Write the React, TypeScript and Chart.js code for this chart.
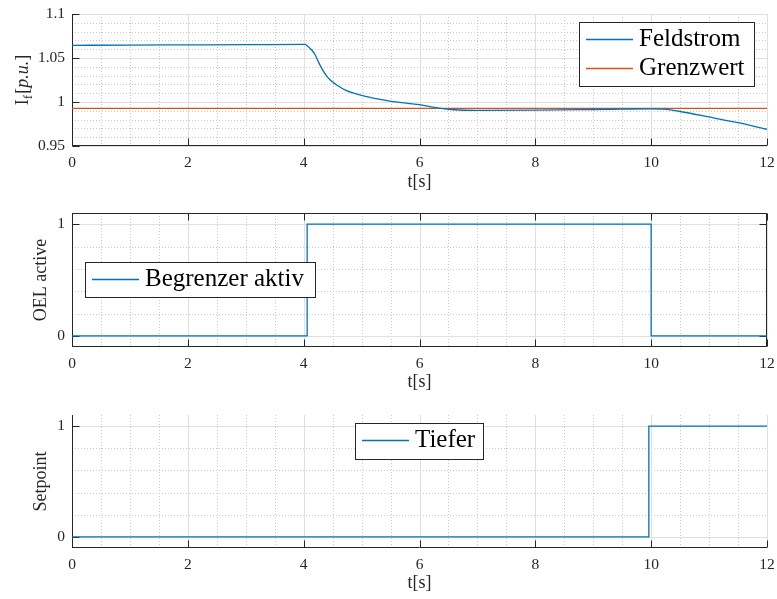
import React, { useEffect, useRef } from "react";
import { Chart, registerables } from "chart.js";

Chart.register(...registerables);

// ---- data ----
const xTicks = [0, 2, 4, 6, 8, 10, 12];

const feldTimes = [0, 1, 2, 3, 4, 4.02, 4.08, 4.14, 4.2, 4.25, 4.31, 4.37, 4.45, 4.57, 4.74, 4.97, 5.2, 5.49, 5.8, 6.0, 6.2, 6.4, 6.6, 7.0, 8.0, 9.0, 9.5, 10.0, 10.2, 10.5, 11.0, 11.5, 12.0];
const feldstrom = [1.0644, 1.0647, 1.0649, 1.0651, 1.0655, 1.0655, 1.0629, 1.0591, 1.0534, 1.0462, 1.0385, 1.032, 1.0255, 1.0193, 1.0129, 1.008, 1.0045, 1.0011, 0.9985, 0.997, 0.9945, 0.9925, 0.9912, 0.9905, 0.9908, 0.9915, 0.9919, 0.9923, 0.9918, 0.9892, 0.983, 0.9765, 0.969];
const grenzTimes = [0, 12];
const grenzwert = [0.9928, 0.9928];
const yTicksFeld = [0.95, 1, 1.05, 1.1];

const oelTimes = [0, 4.06, 10.0, 12];
const oelActive = [0, 1, 0, 0];

const setTimes = [0, 9.96, 12];
const setpoint = [0, 1, 1];

const yTicksBin = [0, 1];

// ---- styling ----
const BLUE = "#0072BD";
const ORANGE = "#D95319";
const AXIS = "#262626";
const FONT = "'Liberation Serif', 'Times New Roman', serif";
const TICK_SIZE = 15.5;
const TITLE_SIZE = 18;

const xMinor: number[] = [];
for (let v = 0.5; v < 12; v += 0.5) if (v % 2 !== 0) xMinor.push(v);
const yMinorFeld: number[] = [];
for (let i = 1; i < 15; i++) if (i % 5 !== 0) yMinorFeld.push(0.95 + i * 0.01);
const yMinorBin = [0.2, 0.4, 0.6, 0.8];

const toXY = (xs: number[], ys: number[]) => xs.map((x, i) => ({ x, y: ys[i] }));

const axesPlugin = {
  id: "matlabAxes",
  beforeDatasetsDraw(chart: any, _args: any, opts: any) {
    const { ctx, chartArea: a, scales } = chart;
    const x = scales.x;
    const y = scales.y;
    const px = (v: number) => Math.round(x.getPixelForValue(v)) + 0.5;
    const py = (v: number) => Math.round(y.getPixelForValue(v)) + 0.5;
    ctx.save();
    ctx.lineWidth = 1;
    // minor dotted grid
    ctx.strokeStyle = "#c9c9c9";
    ctx.setLineDash([1, 2]);
    ctx.beginPath();
    for (const v of xMinor) {
      ctx.moveTo(px(v), a.top);
      ctx.lineTo(px(v), a.bottom);
    }
    for (const v of opts.yMinor) {
      ctx.moveTo(a.left, py(v));
      ctx.lineTo(a.right, py(v));
    }
    ctx.stroke();
    ctx.setLineDash([]);
    // major grid
    ctx.strokeStyle = "#e0e0e0";
    ctx.beginPath();
    for (const v of xTicks) {
      ctx.moveTo(px(v), a.top);
      ctx.lineTo(px(v), a.bottom);
    }
    for (const v of opts.yTicks) {
      ctx.moveTo(a.left, py(v));
      ctx.lineTo(a.right, py(v));
    }
    ctx.stroke();
    // axes and inward ticks
    ctx.strokeStyle = AXIS;
    const L = Math.round(a.left) + 0.5;
    const B = Math.round(a.bottom) - 0.5;
    const T = Math.round(a.top) + 0.5;
    const R = Math.round(a.right) - 0.5;
    const tl = 7;
    ctx.beginPath();
    ctx.moveTo(L, a.top);
    ctx.lineTo(L, B + 0.5);
    ctx.moveTo(L - 0.5, B);
    ctx.lineTo(a.right, B);
    for (const v of xTicks) {
      ctx.moveTo(px(v), B);
      ctx.lineTo(px(v), B - tl);
    }
    for (const v of opts.yTicks) {
      ctx.moveTo(L, py(v));
      ctx.lineTo(L + tl, py(v));
    }
    if (opts.box) {
      ctx.moveTo(a.left, T);
      ctx.lineTo(a.right, T);
      ctx.moveTo(R, a.top);
      ctx.lineTo(R, a.bottom);
      for (const v of xTicks) {
        ctx.moveTo(px(v), T);
        ctx.lineTo(px(v), T + tl);
      }
      for (const v of opts.yTicks) {
        ctx.moveTo(R, py(v));
        ctx.lineTo(R - tl, py(v));
      }
    }
    ctx.stroke();
    ctx.restore();
  },
  afterDatasetsDraw(chart: any, _args: any, opts: any) {
    const { ctx } = chart;
    ctx.save();
    const lg = opts.legend;
    if (lg) {
      ctx.fillStyle = "#ffffff";
      ctx.fillRect(lg.left, lg.top, lg.width, lg.height);
      ctx.strokeStyle = AXIS;
      ctx.lineWidth = 1;
      ctx.strokeRect(lg.left + 0.5, lg.top + 0.5, lg.width, lg.height);
      chart.data.datasets.forEach((ds: any, i: number) => {
        const cy = lg.top + 17 + i * 29 + 0.5;
        ctx.strokeStyle = ds.borderColor;
        ctx.lineWidth = 1.3;
        ctx.beginPath();
        ctx.moveTo(lg.left + 7, cy);
        ctx.lineTo(lg.left + 54, cy);
        ctx.stroke();
        ctx.fillStyle = "#000000";
        ctx.font = `25px ${FONT}`;
        ctx.textBaseline = "alphabetic";
        ctx.textAlign = "left";
        ctx.fillText(ds.label, lg.left + 60, cy + 6);
      });
    }
    if (opts.richTitle) {
      // I_f [p.u.] rotated
      const { cx, cy } = opts.richTitle;
      const parts = [
        { t: "I", f: `${TITLE_SIZE}px ${FONT}`, dy: 0 },
        { t: "f", f: `13px ${FONT}`, dy: 4 },
        { t: "[", f: `${TITLE_SIZE}px ${FONT}`, dy: 0 },
        { t: "p.u.", f: `italic ${TITLE_SIZE}px ${FONT}`, dy: 0 },
        { t: "]", f: `${TITLE_SIZE}px ${FONT}`, dy: 0 },
      ];
      let w = 0;
      for (const p of parts) {
        ctx.font = p.f;
        w += ctx.measureText(p.t).width + (p.t === "f" ? 1 : 0);
      }
      ctx.translate(cx, cy);
      ctx.rotate(-Math.PI / 2);
      ctx.fillStyle = AXIS;
      ctx.textBaseline = "alphabetic";
      ctx.textAlign = "left";
      let xx = -w / 2;
      for (const p of parts) {
        ctx.font = p.f;
        ctx.fillText(p.t, xx, 6 + p.dy);
        xx += ctx.measureText(p.t).width + (p.t === "f" ? 1 : 0);
      }
    }
    ctx.restore();
  },
};

type PanelProps = {
  top: number;
  height: number;
  padTop: number;
  plotHeight: number;
  xTitlePad: number;
  datasets: any[];
  yMin: number;
  yMax: number;
  yTicks: number[];
  yMinor: number[];
  yTitle?: string;
  richTitle?: { cx: number; cy: number };
  box: boolean;
  legend: { left: number; top: number; width: number; height: number };
};

function Panel(p: PanelProps) {
  const ref = useRef<HTMLCanvasElement | null>(null);
  useEffect(() => {
    if (!ref.current) return;
    const chart = new Chart(ref.current, {
      type: "line",
      data: { datasets: p.datasets },
      plugins: [axesPlugin],
      options: {
        animation: false,
        responsive: false,
        devicePixelRatio: 1,
        layout: { padding: { top: p.padTop, right: 10, left: 0, bottom: 0 } },
        elements: { point: { radius: 0 } },
        plugins: {
          legend: { display: false },
          tooltip: { enabled: false },
          matlabAxes: {
            yTicks: p.yTicks,
            yMinor: p.yMinor,
            box: p.box,
            legend: p.legend,
            richTitle: p.richTitle,
          },
        } as any,
        scales: {
          x: {
            type: "linear",
            min: 0,
            max: 12,
            afterBuildTicks: (s: any) => {
              s.ticks = xTicks.map((v) => ({ value: v }));
            },
            afterFit: (s: any) => {
              s.height = p.height - p.padTop - p.plotHeight;
              s.paddingLeft = 0;
              s.paddingRight = 0;
            },
            grid: { display: false, drawTicks: false },
            border: { display: false },
            ticks: {
              autoSkip: false,
              maxRotation: 0,
              padding: 8,
              color: AXIS,
              font: { family: FONT, size: TICK_SIZE },
              callback: (v: any) => String(v),
            },
            title: {
              display: true,
              text: "t[s]",
              color: AXIS,
              font: { family: FONT, size: TITLE_SIZE },
              padding: { top: 0, bottom: p.xTitlePad },
            },
          },
          y: {
            type: "linear",
            min: p.yMin,
            max: p.yMax,
            afterBuildTicks: (s: any) => {
              s.ticks = p.yTicks.map((v) => ({ value: v }));
            },
            afterFit: (s: any) => {
              s.width = 72;
              s.paddingTop = 0;
              s.paddingBottom = 0;
            },
            grid: { display: false, drawTicks: false },
            border: { display: false },
            ticks: {
              autoSkip: false,
              padding: 7,
              color: AXIS,
              font: { family: FONT, size: TICK_SIZE },
              callback: (v: any) => String(v),
            },
            title: {
              display: !!p.yTitle,
              text: p.yTitle || "",
              color: AXIS,
              font: { family: FONT, size: TITLE_SIZE },
              padding: { top: 30, bottom: 0 },
            },
          },
        },
      },
    });
    return () => chart.destroy();
  }, []);
  return (
    <canvas
      ref={ref}
      width={777}
      height={p.height}
      style={{ position: "absolute", left: 0, top: p.top, width: 777, height: p.height }}
    />
  );
}

export default function App() {
  const line = (label: string, data: any, color: string, stepped: any = false) => ({
    label,
    data,
    borderColor: color,
    backgroundColor: color,
    borderWidth: 1.3,
    pointRadius: 0,
    fill: false,
    stepped,
    cubicInterpolationMode: stepped ? "default" : "monotone",
  });
  return (
    <div style={{ position: "absolute", left: 0, top: 0, width: 777, height: 599, background: "#ffffff" }}>
      <Panel
        top={0}
        height={200}
        padTop={14}
        plotHeight={132}
        xTitlePad={7}
        datasets={[line("Feldstrom", toXY(feldTimes, feldstrom), BLUE), line("Grenzwert", toXY(grenzTimes, grenzwert), ORANGE)]}
        yMin={0.95}
        yMax={1.1}
        yTicks={yTicksFeld}
        yMinor={yMinorFeld}
        richTitle={{ cx: 22, cy: 80 }}
        box={false}
        legend={{ left: 579, top: 22, width: 175, height: 64 }}
      />
      <Panel
        top={200}
        height={200}
        padTop={13}
        plotHeight={134}
        xTitlePad={7}
        datasets={[line("Begrenzer aktiv", toXY(oelTimes, oelActive), BLUE, "before")]}
        yMin={-0.1}
        yMax={1.1}
        yTicks={yTicksBin}
        yMinor={yMinorBin}
        yTitle="OEL active"
        box={true}
        legend={{ left: 85, top: 62, width: 230, height: 35 }}
      />
      <Panel
        top={400}
        height={199}
        padTop={15}
        plotHeight={133}
        xTitlePad={5}
        datasets={[line("Tiefer", toXY(setTimes, setpoint), BLUE, "before")]}
        yMin={-0.1}
        yMax={1.1}
        yTicks={yTicksBin}
        yMinor={yMinorBin}
        yTitle="Setpoint"
        box={false}
        legend={{ left: 355, top: 23, width: 128, height: 36 }}
      />
    </div>
  );
}
